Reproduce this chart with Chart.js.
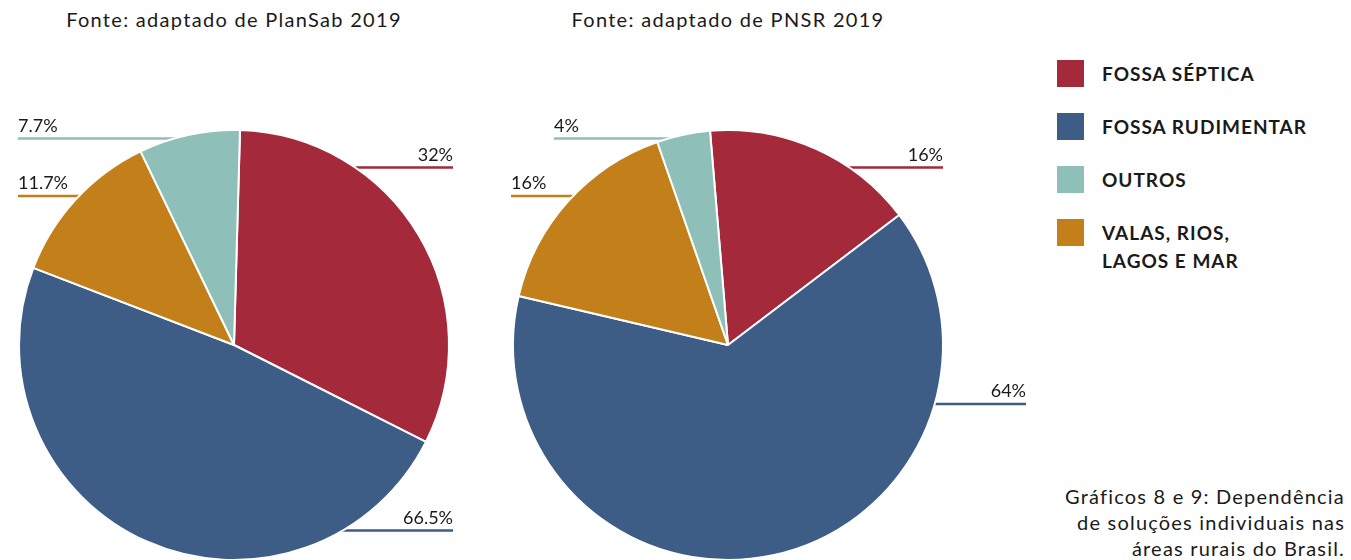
<!DOCTYPE html>
<html lang="pt-BR">
<head>
<meta charset="utf-8">
<script src="https://cdn.jsdelivr.net/npm/chart.js@4/dist/chart.umd.min.js"></script>
<style>
  html, body { margin: 0; padding: 0; background: #fff; overflow: hidden; }
  body { width: 1351px; height: 560px; position: relative; font-family: Lato, sans-serif; color: #1a1a1a; }
  .box { position: absolute; top: 0; height: 590px; }
  .title { position: absolute; top: 7px; font-size: 20px; letter-spacing: 1.3px; text-align: center; white-space: nowrap; }
  .legend { position: absolute; left: 1057px; top: 60px; }
  .legend .item { display: flex; align-items: flex-start; height: 53px; }
  .legend .sw { width: 27px; height: 27px; flex: none; }
  .legend .tx { margin-left: 18px; font-weight: 700; font-size: 19px; letter-spacing: 1px; line-height: 28px; margin-top: 0px; }
  .caption { position: absolute; right: 6px; top: 483px; text-align: right; font-size: 20px; letter-spacing: 1.2px; line-height: 26px; white-space: nowrap; }
</style>
</head>
<body>

<div class="title" style="left:34px;width:400px">Fonte: adaptado de PlanSab 2019</div>
<div class="title" style="left:528px;width:400px">Fonte: adaptado de PNSR 2019</div>

<div class="box" style="left:0;width:470px"><canvas id="plansab"></canvas></div>
<div class="box" style="left:490px;width:560px"><canvas id="pnsr"></canvas></div>

<div class="legend" id="legend"></div>

<div class="caption">Gráficos 8 e 9: Dependência<br>de soluções individuais nas<br>áreas rurais do Brasil.</div>

<script>
// categorias na ordem em que aparecem nas pizzas (sentido horário)
const categories = ['FOSSA SÉPTICA', 'FOSSA RUDIMENTAR', 'VALAS, RIOS, LAGOS E MAR', 'OUTROS'];
const colors = ['#a3293b', '#3d5c86', '#c27f1a', '#8ebfb9'];

// PlanSab 2019 (tamanho das fatias) e rótulos como impressos
const plansabValues = [32, 48.4, 12, 7.6];
const plansabLabels = ['32%', '66.5%', '11.7%', '7.7%'];

// PNSR 2019
const pnsrValues = [16, 64, 16, 4];
const pnsrLabels = ['16%', '64%', '16%', '4%'];

// ordem da legenda (índices em categories) e nomes com quebra de linha
const legendOrder = [0, 1, 3, 2];
const legendNames = ['FOSSA SÉPTICA', 'FOSSA RUDIMENTAR', 'VALAS, RIOS,<br>LAGOS E MAR', 'OUTROS'];

// posição das linhas-guia (px no canvas)
const plansabLeaders = [
    { y: 167.5, x: 453, side: 'right' },
    { y: 530.5, x: 453, side: 'right' },
    { y: 196, x: 18, side: 'left' },
    { y: 138.5, x: 18, side: 'left' }
];
const pnsrLeaders = [
    { y: 167.5, x: 453, side: 'right' },
    { y: 404, x: 536, side: 'right' },
    { y: 196, x: 21, side: 'left' },
    { y: 138.5, x: 64, side: 'left' }
];

const leaderPlugin = {
    id: 'leaders',
    beforeDatasetsDraw(chart, args, opts) {
        const ctx = chart.ctx;
        const cx = (chart.chartArea.left + chart.chartArea.right) / 2;
        ctx.save();
        ctx.lineWidth = 2.5;
        opts.leaders.forEach((l, i) => {
            ctx.strokeStyle = colors[i];
            ctx.beginPath();
            ctx.moveTo(l.x, l.y);
            ctx.lineTo(cx, l.y);
            ctx.stroke();
        });
        ctx.restore();
    },
    afterDatasetsDraw(chart, args, opts) {
        const ctx = chart.ctx;
        ctx.save();
        ctx.font = '18px Lato, sans-serif';
        ctx.fillStyle = '#1a1a1a';
        ctx.textBaseline = 'alphabetic';
        opts.leaders.forEach((l, i) => {
            ctx.textAlign = l.side === 'right' ? 'right' : 'left';
            ctx.fillText(opts.texts[i], l.x, l.y - 7);
        });
        ctx.restore();
    }
};

function makePie(id, values, texts, leaders, rotation, padding) {
    new Chart(document.getElementById(id), {
        type: 'pie',
        data: {
            labels: categories,
            datasets: [{
                data: values,
                backgroundColor: colors,
                borderColor: '#ffffff',
                borderWidth: 2
            }]
        },
        options: {
            responsive: true,
            maintainAspectRatio: false,
            animation: false,
            rotation: rotation,
            layout: { padding: padding },
            plugins: {
                legend: { display: false },
                tooltip: { enabled: false },
                leaders: { leaders: leaders, texts: texts }
            }
        },
        plugins: [leaderPlugin]
    });
}

makePie('plansab', plansabValues, plansabLabels, plansabLeaders, 1.6,
    { left: 18, right: 20, top: 129, bottom: 29 });
makePie('pnsr', pnsrValues, pnsrLabels, pnsrLeaders, -4.8,
    { left: 22, right: 106, top: 129, bottom: 29 });

const legendEl = document.getElementById('legend');
legendOrder.forEach(i => {
    let item = document.createElement('div');
    item.classList.add('item');
    let sw = document.createElement('div');
    sw.classList.add('sw');
    sw.style.background = colors[i];
    let tx = document.createElement('div');
    tx.classList.add('tx');
    tx.innerHTML = legendNames[i];
    item.appendChild(sw);
    item.appendChild(tx);
    legendEl.appendChild(item);
});
</script>
</body>
</html>
